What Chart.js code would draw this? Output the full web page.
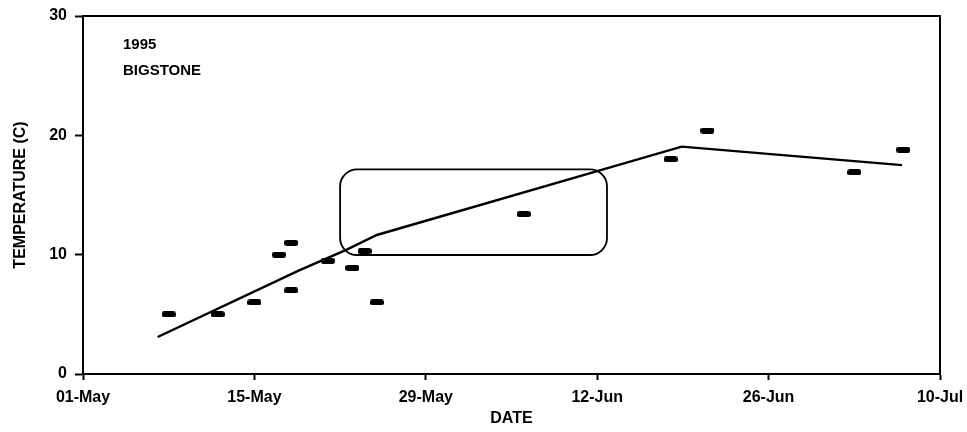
<!DOCTYPE html>
<html>
<head>
<meta charset="utf-8">
<script src="https://cdn.jsdelivr.net/npm/chart.js@4"></script>
<style>
  html, body { margin: 0; padding: 0; background: #ffffff; }
  #wrap { width: 967px; height: 432px; position: relative; }
</style>
</head>
<body>
<div id="wrap"><canvas id="c" width="967" height="432"></canvas></div>
<script>
// ---- data (days since 01-May-1995) ----
const obsDays  = [7, 11, 14, 16, 17, 17, 20, 22, 23, 24, 36, 48, 51, 63, 67];
const obsTemps = [5, 5, 6, 10, 11, 7, 9.5, 8.9, 10.3, 6, 13.4, 18, 20.4, 16.9, 18.8];
const fitDays  = [6.1, 17.7, 21.5, 24, 48.9, 66.9];
const fitTemps = [3.1, 8.7, 10.4, 11.65, 19.05, 17.5];
const xTickDays   = [0, 14, 28, 42, 56, 70];
const xTickLabels = ['01-May', '15-May', '29-May', '12-Jun', '26-Jun', '10-Jul'];
const yTicks = [0, 10, 20, 30];
const boxDays  = [21.0, 42.8];   // highlighted region (x range)
const boxTemps = [9.97, 17.15];  // highlighted region (y range)
const notes = ['1995', 'BIGSTONE'];

const FONT = '"Liberation Sans", Arial, Helvetica, sans-serif';

// dash-shaped marker
const dash = document.createElement('canvas');
dash.width = 14; dash.height = 6;
(function () {
  const g = dash.getContext('2d');
  g.fillStyle = '#000';
  g.beginPath();
  if (g.roundRect) g.roundRect(0, 0, 14, 6, 2.5); else g.rect(0, 0, 14, 6);
  g.fill();
})();

const obsData = obsDays.map((d, i) => ({ x: d, y: obsTemps[i] }));
const fitData = fitDays.map((d, i) => ({ x: d, y: fitTemps[i] }));

const framePlugin = {
  id: 'frame',
  afterDatasetsDraw(chart) {
    const { ctx, chartArea: a, scales } = chart;
    ctx.save();
    // top and right frame
    ctx.strokeStyle = '#000';
    ctx.lineWidth = 2;
    ctx.beginPath();
    ctx.moveTo(a.left, a.top);
    ctx.lineTo(a.right, a.top);
    ctx.lineTo(a.right, a.bottom);
    ctx.stroke();
    // rounded highlight box
    const x0 = scales.x.getPixelForValue(boxDays[0]);
    const x1 = scales.x.getPixelForValue(boxDays[1]);
    const y0 = scales.y.getPixelForValue(boxTemps[1]);
    const y1 = scales.y.getPixelForValue(boxTemps[0]);
    ctx.lineWidth = 1.8;
    ctx.beginPath();
    if (ctx.roundRect) ctx.roundRect(x0, y0, x1 - x0, y1 - y0, 17);
    else ctx.rect(x0, y0, x1 - x0, y1 - y0);
    ctx.stroke();
    // notes
    ctx.fillStyle = '#000';
    ctx.font = 'bold 15px ' + FONT;
    ctx.textBaseline = 'middle';
    ctx.textAlign = 'left';
    ctx.fillText(notes[0], a.left + 40, a.top + 29);
    ctx.fillText(notes[1], a.left + 40, a.top + 55);
    ctx.restore();
  }
};

new Chart(document.getElementById('c'), {
  type: 'scatter',
  data: {
    datasets: [
      {
        label: 'Observed',
        data: obsData,
        showLine: false,
        pointStyle: dash,
        pointRadius: 6,
        pointHoverRadius: 6
      },
      {
        label: 'Fit',
        data: fitData,
        showLine: true,
        borderColor: '#000',
        borderWidth: 2.4,
        pointRadius: 0,
        pointHoverRadius: 0,
        tension: 0,
        fill: false
      }
    ]
  },
  options: {
    responsive: false,
    animation: false,
    events: [],
    layout: { padding: { top: 16, right: 27, bottom: 0, left: 0 } },
    plugins: { legend: { display: false }, tooltip: { enabled: false } },
    scales: {
      x: {
        type: 'linear',
        min: xTickDays[0],
        max: xTickDays[xTickDays.length - 1],
        afterBuildTicks(scale) { scale.ticks = xTickDays.map(v => ({ value: v })); },
        afterFit(scale) {
          scale.height = 58;
          scale.paddingLeft = 0; scale.paddingRight = 0;
          scale.paddingTop = 0; scale.paddingBottom = 0;
        },
        grid: { drawOnChartArea: false, drawTicks: true, tickLength: 6, tickColor: '#000', tickWidth: 2 },
        border: { display: true, color: '#000', width: 2 },
        ticks: {
          color: '#000',
          padding: 8,
          maxRotation: 0,
          autoSkip: false,
          font: { family: FONT, size: 16, weight: 'bold' },
          callback: (v) => xTickLabels[xTickDays.indexOf(v)]
        },
        title: {
          display: true, text: 'DATE', color: '#000',
          font: { family: FONT, size: 16, weight: 'bold' },
          padding: { top: 0, bottom: 4 }
        }
      },
      y: {
        type: 'linear',
        min: yTicks[0],
        max: yTicks[yTicks.length - 1],
        afterBuildTicks(scale) { scale.ticks = yTicks.map(v => ({ value: v })); },
        afterFit(scale) {
          scale.width = 83;
          scale.paddingLeft = 0; scale.paddingRight = 0;
          scale.paddingTop = 0; scale.paddingBottom = 0;
        },
        grid: { drawOnChartArea: false, drawTicks: true, tickLength: 8, tickColor: '#000', tickWidth: 2 },
        border: { display: true, color: '#000', width: 2 },
        ticks: {
          color: '#000',
          padding: 8,
          font: { family: FONT, size: 16, weight: 'bold' }
        },
        title: {
          display: true, text: 'TEMPERATURE (C)', color: '#000',
          font: { family: FONT, size: 16, weight: 'bold' },
          padding: { top: 11, bottom: 0 }
        }
      }
    }
  },
  plugins: [framePlugin]
});
</script>
</body>
</html>
